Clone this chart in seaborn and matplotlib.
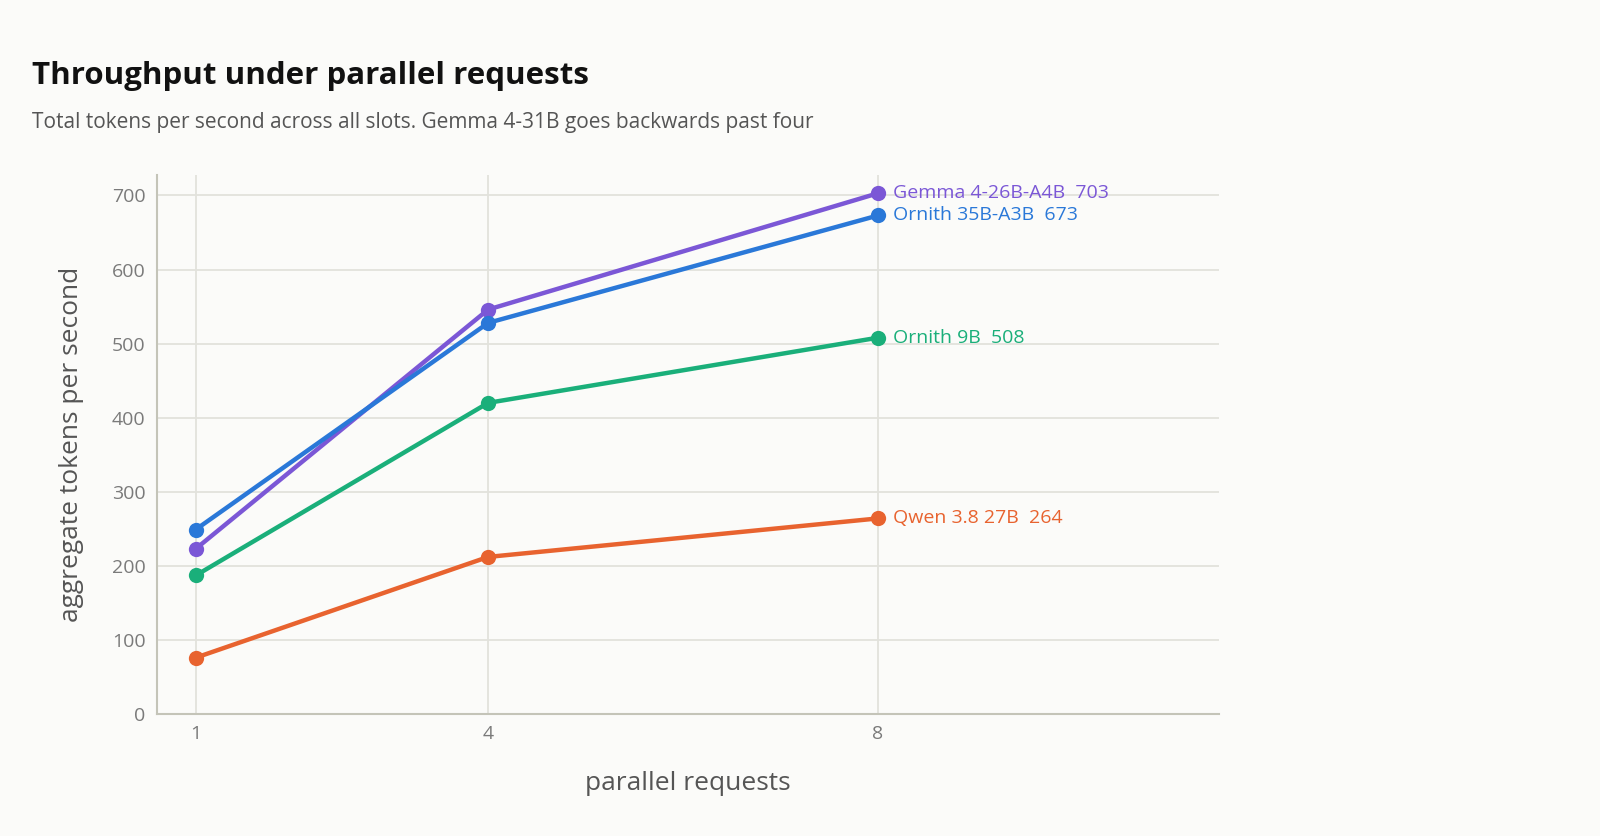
import numpy as np
import pandas as pd
import matplotlib.pyplot as plt
import seaborn as sns

# data
parallel = [1, 4, 8]
models = ['Gemma 4-26B-A4B', 'Ornith 35B-A3B', 'Ornith 9B', 'Qwen 3.8 27B']
gemma_26b = [223, 546, 703]
ornith_35b = [249, 528, 673]
ornith_9b = [187, 420, 508]
qwen_27b = [76, 212, 264]
colors = ['#7b57d6', '#2a78d8', '#1aaf7a', '#e8632f']

series = [gemma_26b, ornith_35b, ornith_9b, qwen_27b]
df = pd.DataFrame({
    'parallel': parallel * len(models),
    'tps': [v for s in series for v in s],
    'model': [m for m in models for _ in parallel],
})

sns.set_theme(style='whitegrid')
plt.rcParams['font.family'] = ['Open Sans', 'DejaVu Sans']

bg = '#fbfbf9'
fig = plt.figure(figsize=(16, 8.36), dpi=100, facecolor=bg)
ax = fig.add_axes([0.098, 0.146, 0.664, 0.645])
ax.set_facecolor(bg)

sns.lineplot(data=df, x='parallel', y='tps', hue='model', hue_order=models,
             palette=colors, marker='o', markersize=11, markeredgewidth=0,
             linewidth=3.2, legend=False, ax=ax)

# end labels
for m, s, c in zip(models, series, colors):
    ax.text(parallel[-1] + 0.15, s[-1], f'{m}  {s[-1]}', color=c,
            fontsize=14, va='center', ha='left')

ax.set_xlim(0.6, 11.5)
ax.set_ylim(0, 728)
ax.set_xticks(parallel)
ax.set_yticks(range(0, 701, 100))
ax.grid(True, color='#e2e2dc', linewidth=1.3)
for side in ['top', 'right']:
    ax.spines[side].set_visible(False)
for side in ['left', 'bottom']:
    ax.spines[side].set_color('#c4c4b8')
    ax.spines[side].set_linewidth(1.5)
ax.tick_params(axis='both', length=0, labelsize=14, labelcolor='#7a7a7a', pad=8)

ax.set_xlabel('parallel requests', fontsize=19, color='#555555', labelpad=20)
ax.set_ylabel('aggregate tokens per second', fontsize=19, color='#555555', labelpad=20)

fig.text(0.02, 0.909, 'Throughput under parallel requests', fontsize=22.5,
         fontweight='bold', color='#111111', va='center')
fig.text(0.02, 0.853, 'Total tokens per second across all slots. Gemma 4-31B goes backwards past four',
         fontsize=15, color='#555555', va='center')

fig.savefig('out.png', dpi=100, facecolor=bg)
